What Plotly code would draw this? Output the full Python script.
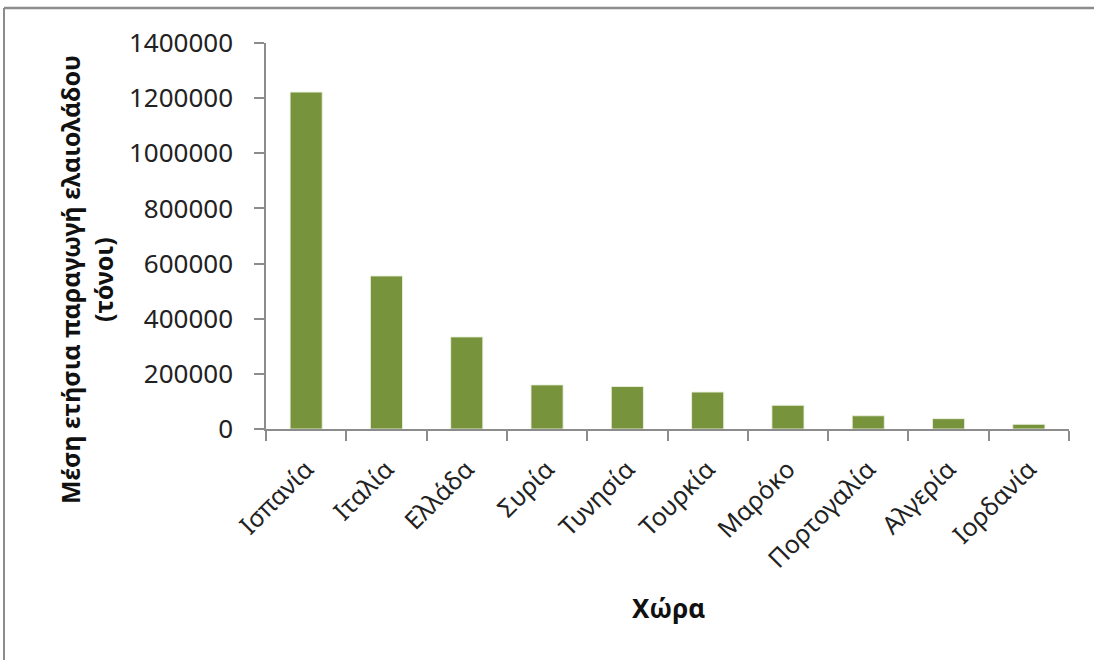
import plotly.graph_objects as go

countries = ["Ισπανία", "Ιταλία", "Ελλάδα", "Συρία", "Τυνησία", "Τουρκία",
             "Μαρόκο", "Πορτογαλία", "Αλγερία", "Ιορδανία"]
production = [1222000, 555000, 334000, 160000, 154000, 134000,
              86000, 48000, 37500, 17000]
y_ticks = [0, 200000, 400000, 600000, 800000, 1000000, 1200000, 1400000]

FONT = "Noto Sans, Open Sans, DejaVu Sans, sans-serif"
AX = "#8c8c8c"

fig = go.Figure(go.Bar(
    x=countries, y=production,
    marker=dict(color="#77933C", line=dict(color="rgba(235,241,222,0.9)", width=1)),
))

L, R, T, B = 266, 25, 43, 231
W, H = 1094, 660
pw = W - L - R
ph = H - T - B

def px_x(p):
    return (p - L) / pw

def px_y(p):
    return (H - B - p) / ph

fig.update_layout(
    width=W, height=H,
    margin=dict(l=L, r=R, t=T, b=B),
    paper_bgcolor="white", plot_bgcolor="white",
    bargap=0.6,
    showlegend=False,
    font=dict(family=FONT, color="#222222", size=24),
    xaxis=dict(
        type="category", showline=True, linecolor=AX, linewidth=1.5,
        ticks="outside", tickson="boundaries", ticklen=10, tickcolor=AX, tickwidth=1.5,
        tickangle=-45, tickfont=dict(size=25, family=FONT, color="#222222"),
        ticklabelstandoff=14,
        showgrid=False, zeroline=False,
    ),
    yaxis=dict(
        range=[0, 1400000], tickvals=y_ticks, ticktext=[str(v) for v in y_ticks],
        showline=True, linecolor=AX, linewidth=1.5,
        ticks="outside", ticklen=10, tickcolor=AX, tickwidth=1.5,
        tickfont=dict(size=26, family=FONT, color="#222222"),
        ticklabelstandoff=16,
        showgrid=False, zeroline=False,
    ),
    annotations=[
        dict(text="<b>Μέση ετήσια παραγωγή ελαιολάδου<br>(τόνοι)</b>",
             textangle=-90, xref="paper", yref="paper",
             x=px_x(86), y=px_y(280), xanchor="center", yanchor="middle",
             showarrow=False, font=dict(size=25, family=FONT, color="#111111")),
        dict(text="<b>Χώρα</b>", xref="paper", yref="paper",
             x=px_x(668), y=px_y(608), xanchor="center", yanchor="middle",
             showarrow=False, font=dict(size=26, family=FONT, color="#111111")),
    ],
    shapes=[
        dict(type="line", xref="paper", yref="paper",
             x0=px_x(4), x1=px_x(1100), y0=px_y(8), y1=px_y(8),
             line=dict(color="#8c8c8c", width=2.5)),
        dict(type="line", xref="paper", yref="paper",
             x0=px_x(4), x1=px_x(4), y0=px_y(8), y1=px_y(670),
             line=dict(color="#8c8c8c", width=2)),
    ],
)

fig.write_html("out.html")
